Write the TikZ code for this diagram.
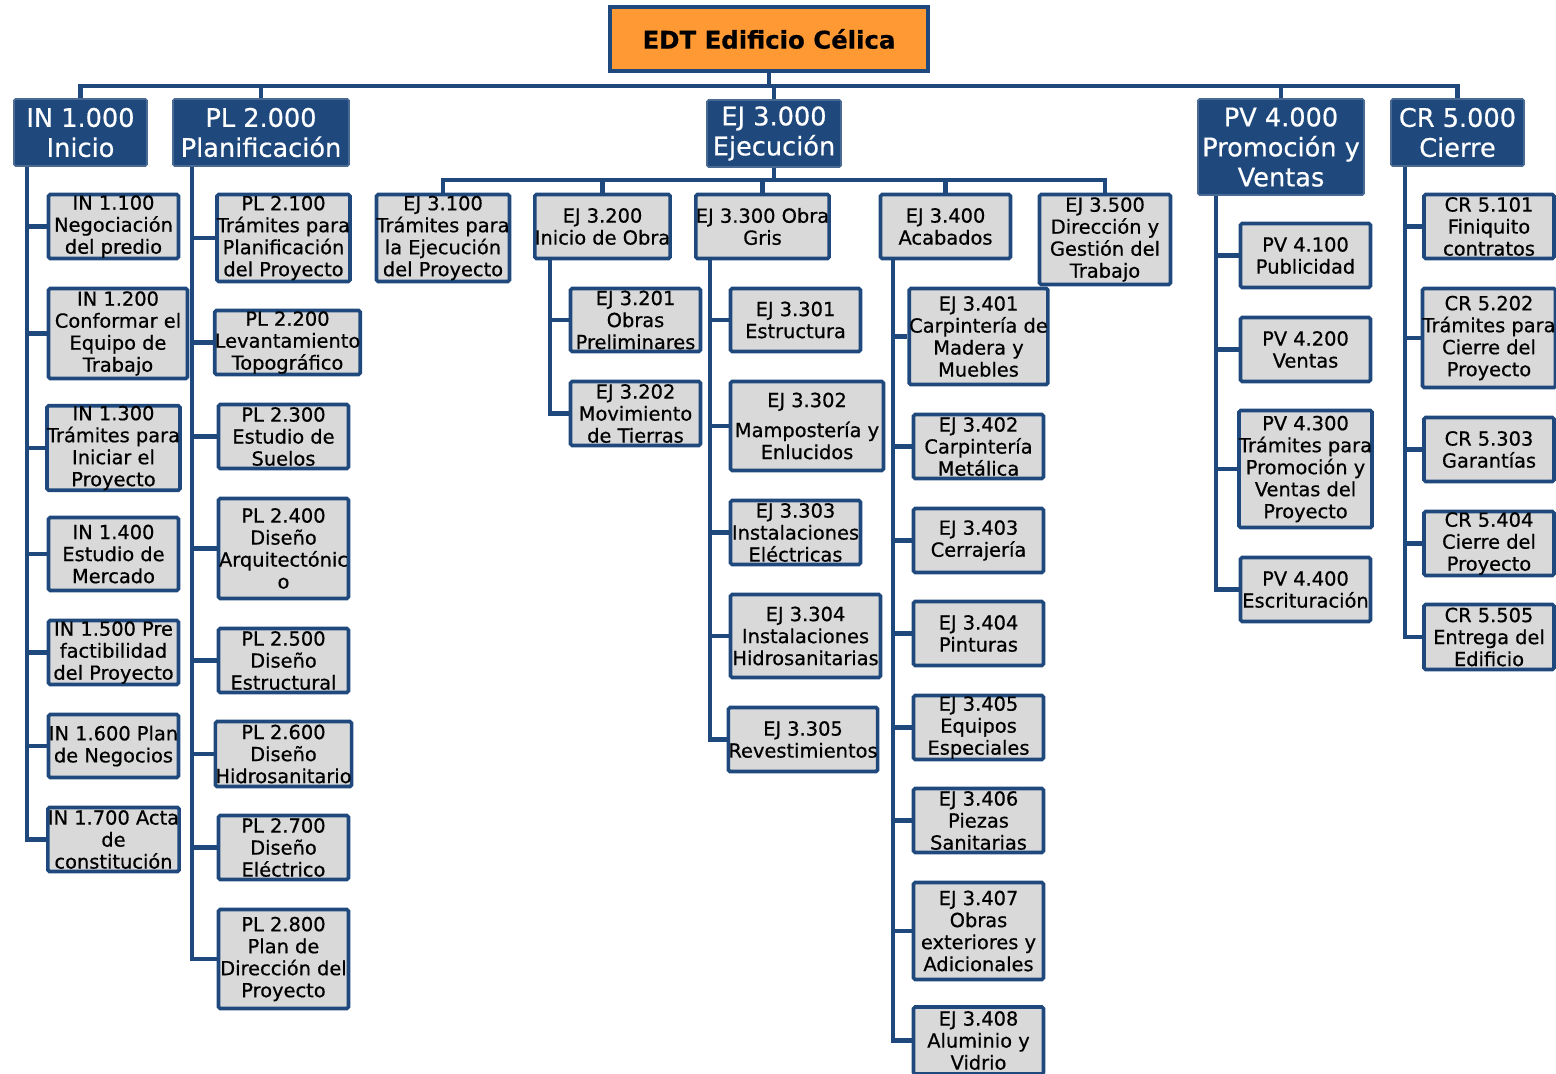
\documentclass[tikz,border=0pt]{standalone}
\usepackage{fontspec}
\setmainfont{DejaVu Sans}[FakeBold=0.6]
\usepackage{xcolor}
\usetikzlibrary{positioning}

\definecolor{edtblue}{HTML}{1F497D}
\definecolor{edtedge}{HTML}{4A6A94}
\definecolor{boxgray}{HTML}{D9D9D9}
\definecolor{edtorange}{HTML}{FF9933}

\tikzset{
  link/.style={draw=edtblue, line width=2.2pt},
  sz/.style 2 args={minimum width=#1*0.5pt, minimum height=#2*0.5pt},
  root/.style={draw=edtblue, fill=edtorange, line width=1.8pt, inner sep=0pt,
    font=\bfseries\fontsize{12.2}{14}\selectfont},
  phase/.style={draw=edtedge, fill=edtblue, line width=0.8pt, rounded corners=0.8pt,
    text=white, align=center, inner sep=0pt, font=\fontsize{12.8}{15}\selectfont},
  item/.style={draw=edtblue, fill=boxgray, line width=1.8pt, rounded corners=0.8pt,
    align=center, inner sep=0pt, font=\fontsize{9.7}{11}\selectfont}
}

\begin{document}
\begin{tikzpicture}[x=0.5pt, y=-0.5pt]

\useasboundingbox (0,0) rectangle (1556,1073);
\clip (0,0) rectangle (1556,1073);

% Root of the WBS
\node[root, sz={318}{64}] (edt) at (769,39) {EDT Edificio Célica};

% Phases
\node[phase, sz={133}{67}] (in1) at (80.5,132.5) {IN 1.000\\Inicio};
\node[phase, sz={176}{67}] (pl2) at (261,132.5) {PL 2.000\\Planificación};
\node[phase, sz={134}{67}] (ej3) at (774,133.5) {EJ 3.000\\Ejecución};
\node[phase, sz={166}{96}] (pv4) at (1281,147) {PV 4.000\\Promoción y\\Ventas};
\node[phase, sz={133}{67}] (cr5) at (1457.5,132.5) {CR 5.000\\Cierre};

% Bus points
\coordinate (topbar) at (769,86);
\coordinate (ejbar) at (774,180);
\coordinate (inbus) at (27,167);
\coordinate (plbus) at (192,167);
\coordinate (ej32bus) at (550,260);
\coordinate (ej33bus) at (710,260);
\coordinate (ej34bus) at (893,260);
\coordinate (pvbus) at (1216,196);
\coordinate (crbus) at (1405,167);

% Inicio
\node[item, sz={130}{64}] (in11) at (113.5,226.5) {IN 1.100\\Negociación\\del predio};
\node[item, sz={139}{90}] (in12) at (118,333.5) {IN 1.200\\Conformar el\\Equipo de\\Trabajo};
\node[item, sz={130}{81}] (in13) at (113.5,448) {IN 1.300\\Trámites para\\Iniciar el\\Proyecto};
\node[item, sz={130}{73}] (in14) at (113.5,554) {IN 1.400\\Estudio de\\Mercado};
\node[item, sz={130}{64}] (in15) at (113.5,652.5) {IN 1.500 Pre\\factibilidad\\del Proyecto};
\node[item, sz={130}{63}] (in16) at (113.5,746) {IN 1.600 Plan\\de Negocios};
\node[item, sz={130}{64}] (in17) at (113.5,839.5) {IN 1.700 Acta\\de\\constitución};

% Planificacion
\node[item, sz={130}{87}] (pl21) at (283.5,238) {PL 2.100\\Trámites para\\Planificación\\del Proyecto};
\node[item, sz={138}{64}] (pl22) at (287.5,342.5) {PL 2.200\\Levantamiento\\Topográfico};
\node[item, sz={130}{64}] (pl23) at (283.5,436.5) {PL 2.300\\Estudio de\\Suelos};
\node[item, sz={130}{100}] (pl24) at (283.5,548.5) {PL 2.400\\Diseño\\Arquitectónic\\o};
\node[item, sz={130}{64}] (pl25) at (283.5,660.5) {PL 2.500\\Diseño\\Estructural};
\node[item, sz={130}{65}] (pl26) at (283.5,754) {PL 2.600\\Diseño\\Hidrosanitario};
\node[item, sz={130}{64}] (pl27) at (283.5,847.5) {PL 2.700\\Diseño\\Eléctrico};
\node[item, sz={130}{99}] (pl28) at (283.5,959) {PL 2.800\\Plan de\\Dirección del\\Proyecto};

% Ejecucion
\node[item, sz={131}{87}] (ej31) at (443,238) {EJ 3.100\\Trámites para\\la Ejecución\\del Proyecto};
\node[item, sz={130}{64}] (ej32) at (602.5,226.5) {EJ 3.200\\Inicio de Obra};
\node[item, sz={130}{64}] (ej33) at (762.5,226.5) {EJ 3.300 Obra\\Gris};
\node[item, sz={130}{64}] (ej34) at (945.5,226.5) {EJ 3.400\\Acabados};
\node[item, sz={131}{90}] (ej35) at (1105,239.5) {EJ 3.500\\Dirección y\\Gestión del\\Trabajo};

\node[item, sz={130}{63}] (ej321) at (635.5,320) {EJ 3.201\\Obras\\Preliminares};
\node[item, sz={130}{64}] (ej322) at (635.5,413.5) {EJ 3.202\\Movimiento\\de Tierras};

\node[item, sz={130}{63}] (ej331) at (795.5,320) {EJ 3.301\\Estructura};
\node[item, sz={153}{89}] (ej332) at (807,426) {EJ 3.302\\[4pt]Mampostería y\\Enlucidos};
\node[item, sz={130}{64}] (ej333) at (795.5,532.5) {EJ 3.303\\Instalaciones\\Eléctricas};
\node[item, sz={150}{83}] (ej334) at (805.5,636) {EJ 3.304\\Instalaciones\\Hidrosanitarias};
\node[item, sz={145}{64}] (ej335) at (803,739.5) {EJ 3.305\\Revestimientos};

\node[item, sz={130}{96}] (ej341) at (978.5,336.5) {EJ 3.401\\Carpintería de\\Madera y\\Muebles};
\node[item, sz={130}{64}] (ej342) at (978.5,446.5) {EJ 3.402\\Carpintería\\Metálica};
\node[item, sz={130}{64}] (ej343) at (978.5,540.5) {EJ 3.403\\Cerrajería};
\node[item, sz={130}{64}] (ej344) at (978.5,633.5) {EJ 3.404\\Pinturas};
\node[item, sz={130}{64}] (ej345) at (978.5,727.5) {EJ 3.405\\Equipos\\Especiales};
\node[item, sz={130}{64}] (ej346) at (978.5,820.5) {EJ 3.406\\Piezas\\Sanitarias};
\node[item, sz={130}{97}] (ej347) at (978.5,931) {EJ 3.407\\Obras\\exteriores y\\Adicionales};
\node[item, sz={130}{67}] (ej348) at (978.5,1040.5) {EJ 3.408\\Aluminio y\\Vidrio};

% Promocion y ventas
\node[item, sz={130}{64}] (pv41) at (1305.5,255.5) {PV 4.100\\Publicidad};
\node[item, sz={130}{64}] (pv42) at (1305.5,349.5) {PV 4.200\\Ventas};
\node[item, sz={130}{117}] (pv43) at (1305.5,469) {PV 4.300\\Trámites para\\Promoción y\\Ventas del\\Proyecto};
\node[item, sz={130}{64}] (pv44) at (1305.5,589.5) {PV 4.400\\Escrituración};

% Cierre
\node[item, sz={130}{64}] (cr51) at (1489,226.5) {CR 5.101\\Finiquito\\contratos};
\node[item, sz={130}{99}] (cr52) at (1489,338) {CR 5.202\\Trámites para\\Cierre del\\Proyecto};
\node[item, sz={130}{64}] (cr53) at (1489,449.5) {CR 5.303\\Garantías};
\node[item, sz={130}{64}] (cr54) at (1489,543.5) {CR 5.404\\Cierre del\\Proyecto};
\node[item, sz={130}{65}] (cr55) at (1489,637) {CR 5.505\\Entrega del\\Edificio};

% Connections
\draw[link] (edt.south) -- (topbar);
\foreach \n in {in1,pl2,ej3,pv4,cr5}
  \draw[link] (topbar) -| (\n.north);

\draw[link] (ej3.south) -- (ejbar);
\foreach \n in {ej31,ej32,ej33,ej34,ej35}
  \draw[link] (ejbar) -| (\n.north);

\foreach \n in {in11,in12,in13,in14,in15,in16,in17}
  \draw[link] (inbus) |- (\n.west);
\foreach \n in {pl21,pl22,pl23,pl24,pl25,pl26,pl27,pl28}
  \draw[link] (plbus) |- (\n.west);
\foreach \n in {ej321,ej322}
  \draw[link] (ej32bus) |- (\n.west);
\foreach \n in {ej331,ej332,ej333,ej334,ej335}
  \draw[link] (ej33bus) |- (\n.west);
\foreach \n in {ej341,ej342,ej343,ej344,ej345,ej346,ej347,ej348}
  \draw[link] (ej34bus) |- (\n.west);
\foreach \n in {pv41,pv42,pv43,pv44}
  \draw[link] (pvbus) |- (\n.west);
\foreach \n in {cr51,cr52,cr53,cr54,cr55}
  \draw[link] (crbus) |- (\n.west);

\end{tikzpicture}
\end{document}
